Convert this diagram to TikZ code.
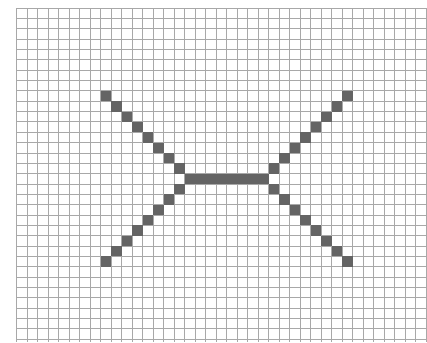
\documentclass[tikz,border=0pt]{standalone}
\definecolor{cellgray}{RGB}{100,100,100}
\definecolor{linegray}{RGB}{168,168,168}
\begin{document}
\begin{tikzpicture}[x=7.875pt, y=-7.7625pt,
    gridline/.style={draw=linegray, line width=0.6pt},
    cell/.style={fill=cellgray}]
    \useasboundingbox[fill=white] (-1.5714,-0.773) rectangle (39.095,32.27);
    \foreach \i in {0,...,39} {
      \draw[gridline] (\i,0) -- (\i,32.27);
    }
    \foreach \j in {0,...,32} {
      \draw[gridline] (0,\j) -- (39.095,\j);
    }
    \foreach \k in {0,...,7} {
      \fill[cell] (8+\k,8+\k) rectangle ++(1,1);
      \fill[cell] (8+\k,24-\k) rectangle ++(1,1);
      \fill[cell] (31-\k,8+\k) rectangle ++(1,1);
      \fill[cell] (31-\k,24-\k) rectangle ++(1,1);
    }
    \fill[cell] (16,16) rectangle (24,17);
\end{tikzpicture}
\end{document}
